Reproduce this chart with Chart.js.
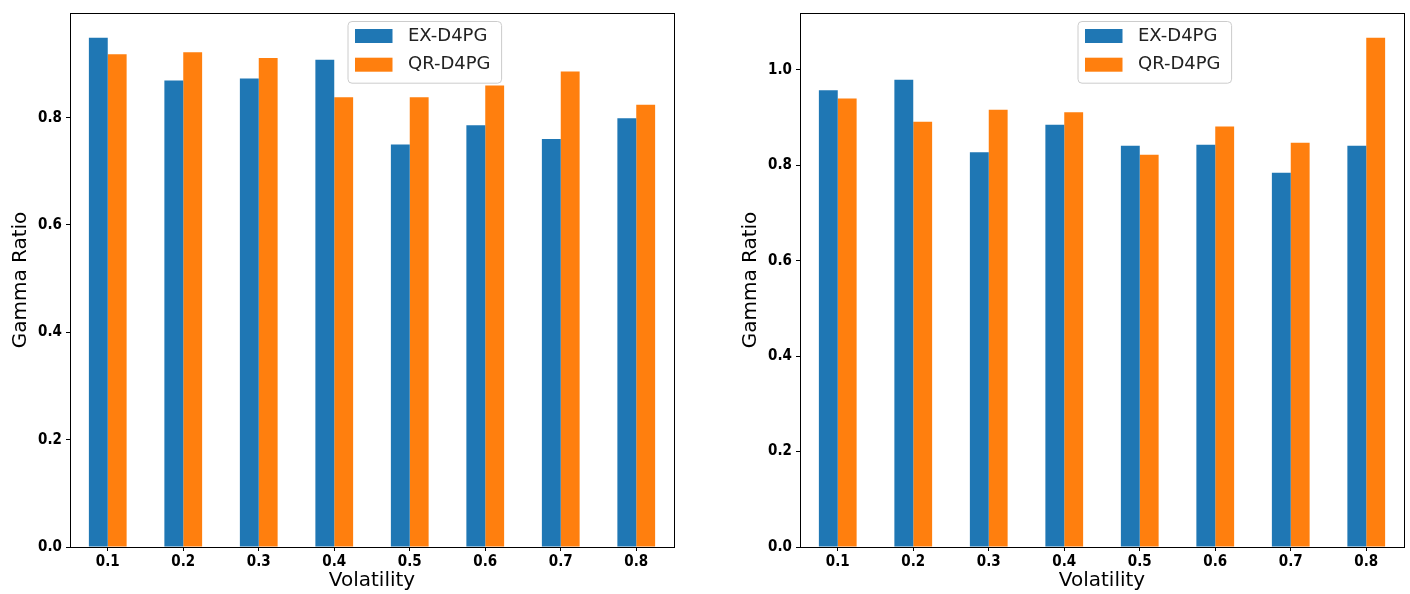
<!DOCTYPE html>
<html>
<head>
<meta charset="utf-8">
<script src="https://cdn.jsdelivr.net/npm/chart.js@4.4.0/dist/chart.umd.min.js"></script>
<style>
  html, body { margin: 0; padding: 0; background: #fff; }
  #wrap { position: relative; width: 1410px; height: 594px; }
  .box { position: absolute; top: 0; height: 594px; }
</style>
</head>
<body>
<div id="wrap">
  <div class="box" style="left:0;width:700px"><canvas id="leftChart"></canvas></div>
  <div class="box" style="left:730px;width:680px"><canvas id="rightChart"></canvas></div>
</div>
<script>
"use strict";

const VOLATILITY = ["0.1", "0.2", "0.3", "0.4", "0.5", "0.6", "0.7", "0.8"];
const SERIES = ["EX-D4PG", "QR-D4PG"];

// left panel
const LEFT_EX = [0.949, 0.869, 0.873, 0.908, 0.750, 0.786, 0.760, 0.799];
const LEFT_QR = [0.918, 0.922, 0.911, 0.838, 0.838, 0.860, 0.886, 0.824];
// right panel
const RIGHT_EX = [0.957, 0.979, 0.827, 0.885, 0.841, 0.843, 0.784, 0.841];
const RIGHT_QR = [0.940, 0.891, 0.916, 0.911, 0.822, 0.881, 0.847, 1.067];

const Y_TICKS = [0.0, 0.2, 0.4, 0.6, 0.8, 1.0];

const BLUE = "#1f77b4";
const ORANGE = "#ff7f0e";
const FONT = "'DejaVu Sans', sans-serif";

// axes frame like matplotlib spines
const framePlugin = {
    id: "frame",
    afterDraw(chart) {
        const a = chart.chartArea;
        const ctx = chart.ctx;
        ctx.save();
        ctx.strokeStyle = "#000";
        ctx.lineWidth = 1;
        ctx.strokeRect(Math.round(a.left) + 0.5, Math.round(a.top) + 0.5,
            Math.round(a.right - a.left), Math.round(a.bottom - a.top));
        ctx.restore();
    }
};

// legend drawn inside the plot, matplotlib style
const boxLegend = {
    id: "boxLegend",
    afterDraw(chart) {
        const a = chart.chartArea;
        const ctx = chart.ctx;
        const x = a.left + 277.5, y = a.top + 8;
        const w = 153.6, h = 61.7, r = 4;
        ctx.save();
        ctx.fillStyle = "rgba(255,255,255,0.8)";
        ctx.strokeStyle = "#cccccc";
        ctx.lineWidth = 1;
        ctx.beginPath();
        ctx.roundRect(x + 0.5, y + 0.5, w, h, r);
        ctx.fill();
        ctx.stroke();
        ctx.font = "18px " + FONT;
        ctx.textBaseline = "middle";
        ctx.textAlign = "left";
        chart.data.datasets.forEach((ds, i) => {
            const py = y + 8 + i * 28.7;
            ctx.fillStyle = ds.backgroundColor;
            ctx.fillRect(x + 7.5, py, 37.5, 14);
            ctx.fillStyle = "#222";
            ctx.fillText(ds.label, x + 60.5, py + 7);
        });
        ctx.restore();
    }
};

function makeChart(id, exData, qrData, yMax, rightPad)
{
    const data = {
        labels: VOLATILITY,
        datasets: [
            { label: SERIES[0], data: exData, backgroundColor: BLUE },
            { label: SERIES[1], data: qrData, backgroundColor: ORANGE }
        ]
    };
    const tickFont = { family: "'DejaVu Sans Condensed', 'DejaVu Sans', sans-serif", size: 15, weight: "bold" };
    const titleFont = { family: FONT, size: 20, lineHeight: 1.2 };
    const config = {
        type: "bar",
        data: data,
        options: {
            responsive: false,
            animation: false,
            devicePixelRatio: 1,
            layout: { padding: { top: 11, right: rightPad, bottom: 0, left: 0 } },
            datasets: { bar: { categoryPercentage: 0.5, barPercentage: 1.0 } },
            plugins: {
                legend: { display: false },
                tooltip: { enabled: false }
            },
            scales: {
                x: {
                    offset: true,
                    grid: { display: true, offset: false, drawOnChartArea: false, drawTicks: true, tickLength: 4, color: "#000" },
                    border: { display: false },
                    ticks: { color: "#000", font: tickFont, padding: 2, maxRotation: 0 },
                    title: { display: true, text: "Volatility", color: "#000", font: titleFont, padding: { top: 0, bottom: 1 } },
                    afterFit(s) { s.height = 47; }
                },
                y: {
                    min: 0,
                    max: yMax,
                    grid: { display: true, drawOnChartArea: false, drawTicks: true, tickLength: 4, color: "#000" },
                    border: { display: false },
                    afterBuildTicks(s) {
                        s.ticks = Y_TICKS.filter(v => v <= yMax).map(v => ({ value: v }));
                    },
                    ticks: {
                        color: "#000",
                        font: tickFont,
                        padding: 4,
                        callback: v => Number(v).toFixed(1)
                    },
                    title: { display: true, text: "Gamma Ratio", color: "#000", font: titleFont, padding: { top: 9, bottom: 0 } },
                    afterFit(s) { s.width = 70; }
                }
            }
        },
        plugins: [framePlugin, boxLegend]
    };
    const canvas = document.getElementById(id);
    canvas.width = canvas.parentElement.clientWidth;
    canvas.height = 594;
    return new Chart(canvas, config);
}

makeChart("leftChart", LEFT_EX, LEFT_QR, 0.995, 26);
makeChart("rightChart", RIGHT_EX, RIGHT_QR, 1.119, 6);
</script>
</body>
</html>
